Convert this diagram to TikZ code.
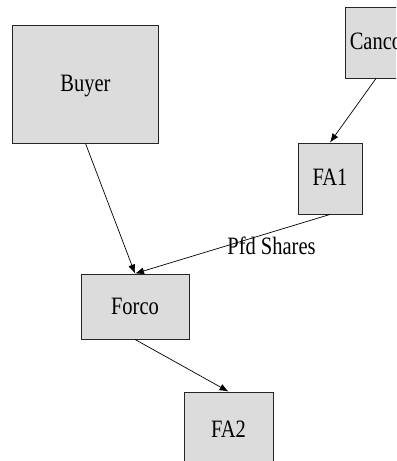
\documentclass[tikz,border=0pt]{standalone}
\usepackage{fontspec}
\usepackage{graphicx}
\setmainfont{Liberation Serif}
\usetikzlibrary{arrows.meta}
\definecolor{boxgray}{RGB}{220,220,220}
\newcommand{\nlabel}[1]{\scalebox{0.82}[1]{#1}} % narrow text as in the chart
\begin{document}
\begin{tikzpicture}[x=1bp,y=-1bp,
  entity/.style={draw=black!85, line width=0.9bp, fill=boxgray, inner sep=0pt, text height=15bp, text depth=0pt, font=\fontsize{25bp}{25bp}\selectfont},
  owns/.style={-{Latex[length=9bp,width=7bp]}, line width=0.7bp}]
\useasboundingbox (0,0) rectangle (396,461);
\clip (0,0) rectangle (396,461); % boxes at the edges are cut off
\node[entity, minimum width=146bp, minimum height=118bp] (buyer) at (85.5,84) {\nlabel{Buyer}};
\node[entity, minimum width=62bp, minimum height=71bp] (canco) at (376,42.5) {\nlabel{Canco}};
\node[entity, minimum width=64bp, minimum height=71bp] (fa1) at (330,178.5) {\nlabel{FA1}};
\node[entity, minimum width=108bp, minimum height=65bp] (forco) at (135,306.5) {\nlabel{Forco}};
\node[entity, minimum width=89bp, minimum height=76bp] (fa2) at (228.5,430) {\nlabel{FA2}};
\draw[owns] (buyer.south) -- (forco.north);
\draw[owns] (canco.south) -- (fa1.north);
\draw[owns] (fa1.south) -- node[pos=0.3, below=4bp, inner sep=0pt, font=\fontsize{25bp}{25bp}\selectfont] (pfd) {\nlabel{Pfd Shares}} (forco.north);
\draw[owns] (forco.south) -- (fa2.north);
\end{tikzpicture}
\end{document}
